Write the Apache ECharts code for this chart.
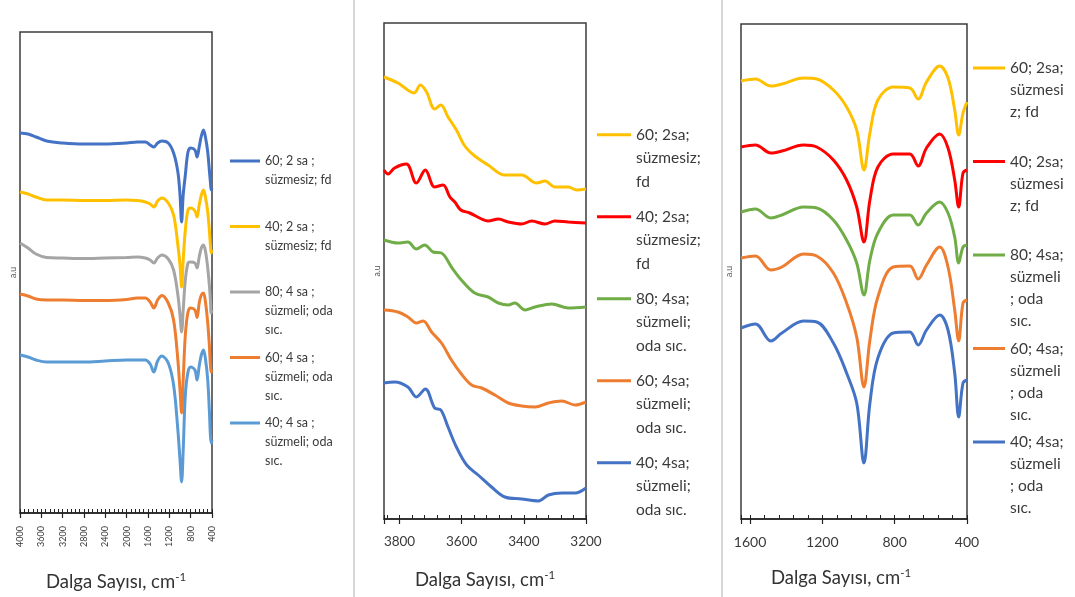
<!DOCTYPE html>
<html><head><meta charset="utf-8">
<script src="https://cdn.jsdelivr.net/npm/echarts@6/dist/echarts.min.js"></script>
<style>html,body{margin:0;padding:0;background:#fff}#c{width:1075px;height:597px}</style>
</head><body><div id="c"></div>
<script>
// ---------- Panel 1 (4000-400 cm-1) ----------
const W1 = [4000, 3850, 3700, 3500, 3200, 2800, 2400, 2000, 1800, 1650, 1560, 1490, 1420, 1340, 1220, 1120, 1040, 1000, 970, 940, 900, 850, 800, 720, 680, 640, 600, 560, 520, 480, 450, 430, 415, 400];
const p1_60_2 = [38.0, 37.9, 37.6, 37.2, 37.0, 36.9, 36.9, 37.0, 37.1, 37.1, 36.8, 36.6, 37.0, 37.2, 37.0, 36.0, 34.1, 31.8, 29.1, 31.8, 33.8, 36.1, 36.5, 36.3, 35.6, 36.6, 37.7, 38.3, 37.5, 36.1, 34.3, 33.1, 32.3, 32.5];
const p1_40_2 = [32.1, 31.9, 31.6, 31.3, 31.3, 31.25, 31.25, 31.3, 31.25, 31.1, 30.9, 30.6, 31.2, 31.5, 31.0, 29.8, 26.8, 24.8, 22.6, 25.3, 28.3, 30.3, 30.5, 30.2, 29.6, 30.8, 31.8, 32.3, 31.5, 30.1, 28.3, 26.8, 26.0, 26.3];
const p1_80_4 = [27.0, 26.5, 25.9, 25.55, 25.5, 25.45, 25.5, 25.55, 25.6, 25.5, 25.3, 25.0, 25.5, 25.8, 25.4, 24.3, 21.8, 19.8, 18.1, 20.3, 23.3, 25.0, 25.1, 25.0, 24.5, 25.6, 26.5, 26.8, 26.1, 24.5, 22.8, 21.3, 20.0, 20.3];
const p1_60_4 = [21.9, 21.7, 21.4, 21.3, 21.3, 21.25, 21.25, 21.35, 21.5, 21.5, 21.1, 20.5, 21.3, 21.75, 21.0, 19.3, 15.3, 12.3, 10.0, 13.3, 17.8, 20.1, 20.5, 20.3, 19.55, 21.0, 21.8, 22.0, 21.0, 19.0, 16.8, 14.8, 14.1, 14.3];
const p1_40_4 = [15.8, 15.6, 15.3, 15.1, 15.1, 15.1, 15.2, 15.3, 15.3, 15.3, 14.9, 14.1, 15.2, 15.7, 15.0, 12.8, 8.3, 5.3, 3.1, 6.3, 11.8, 14.1, 14.6, 14.3, 13.3, 14.7, 15.8, 16.3, 15.3, 13.3, 10.3, 7.8, 7.0, 7.3];
const names1 = ['60; 2 sa ;\nsüzmesiz; fd', '40; 2 sa ;\nsüzmesiz; fd', '80; 4 sa ;\nsüzmeli; oda\nsıc.', '60; 4 sa ;\nsüzmeli; oda\nsıc.', '40; 4 sa ;\nsüzmeli; oda\nsıc.'];
const colors1 = ['#4472C4', '#FFC000', '#A5A5A5', '#ED7D31', '#5B9BD5'];
const ticks1 = [400, 800, 1200, 1600, 2000, 2400, 2800, 3200, 3600, 4000];

// ---------- Panel 2 (3850-3200 cm-1) ----------
const p2_60_2 = [[3850, 44.2], [3805, 43.6], [3753, 42.6], [3733, 43.4], [3713, 42.7], [3687, 41.0], [3667, 41.4], [3644, 40.2], [3617, 38.9], [3590, 37.3], [3558, 36.3], [3515, 35.4], [3461, 34.4], [3407, 34.4], [3359, 33.6], [3332, 33.8], [3300, 33.2], [3257, 33.2], [3230, 32.9], [3200, 33.0]];
const p2_40_2 = [[3850, 34.9], [3837, 34.5], [3816, 35.1], [3778, 35.5], [3746, 33.6], [3717, 34.9], [3687, 33.2], [3660, 33.4], [3638, 32.2], [3622, 31.7], [3603, 30.9], [3574, 30.6], [3536, 30.0], [3515, 29.8], [3482, 30.0], [3450, 29.7], [3407, 29.5], [3375, 29.8], [3332, 29.5], [3300, 29.8], [3257, 29.7], [3200, 29.6]];
const p2_80_4 = [[3850, 27.9], [3805, 27.6], [3773, 27.7], [3746, 27.0], [3719, 27.4], [3692, 26.7], [3665, 26.6], [3633, 25.2], [3601, 23.9], [3558, 22.6], [3515, 22.2], [3482, 21.6], [3450, 21.4], [3429, 21.6], [3396, 20.9], [3364, 21.2], [3310, 21.5], [3257, 21.1], [3200, 21.2]];
const p2_60_4 = [[3850, 20.9], [3805, 20.7], [3773, 20.2], [3746, 19.6], [3724, 19.8], [3697, 18.7], [3665, 17.6], [3633, 15.9], [3601, 14.5], [3568, 13.4], [3536, 13.1], [3493, 12.4], [3450, 11.6], [3407, 11.3], [3364, 11.2], [3321, 11.6], [3278, 11.8], [3235, 11.4], [3200, 11.7]];
const p2_40_4 = [[3850, 13.6], [3816, 13.7], [3773, 13.2], [3746, 12.2], [3717, 13.0], [3687, 11.1], [3667, 10.9], [3644, 9.2], [3617, 7.2], [3584, 5.4], [3547, 4.4], [3504, 3.2], [3461, 2.2], [3407, 2.0], [3353, 1.8], [3321, 2.4], [3278, 2.6], [3235, 2.6], [3200, 3.1]];
const names2 = ['60; 2sa;\nsüzmesiz;\nfd', '40; 2sa;\nsüzmesiz;\nfd', '80; 4sa;\nsüzmeli;\noda sıc.', '60; 4sa;\nsüzmeli;\noda sıc.', '40; 4sa;\nsüzmeli;\noda sıc.'];
const colors2 = ['#FFC000', '#FF0000', '#70AD47', '#ED7D31', '#4472C4'];
const ticks2 = [3200, 3400, 3600, 3800];

// ---------- Panel 3 (1650-400 cm-1) ----------
const W3 = [1650, 1570, 1485, 1424, 1304, 1231, 1139, 1066, 1010, 970, 937, 893, 808, 716, 670, 624, 551, 505, 468, 446, 422, 400];
const p3_60_2 = [43.8, 44.0, 43.3, 43.5, 44.1, 44.0, 42.9, 41.2, 38.9, 34.9, 38.6, 41.9, 43.2, 43.1, 42.0, 43.7, 45.3, 44.1, 40.9, 38.4, 40.6, 41.7];
const p3_40_2 = [37.2, 37.4, 36.6, 36.8, 37.4, 37.2, 35.9, 33.9, 31.2, 27.7, 31.9, 35.2, 36.5, 36.5, 35.3, 37.1, 38.5, 37.1, 33.9, 31.2, 34.6, 34.9];
const p3_80_4 = [30.7, 31.0, 30.1, 30.4, 31.2, 31.1, 29.9, 27.9, 25.6, 22.4, 25.9, 28.6, 30.4, 30.4, 29.4, 30.6, 31.7, 30.6, 28.2, 25.6, 27.2, 27.4];
const p3_60_4 = [26.1, 26.3, 24.9, 25.2, 26.5, 26.3, 24.6, 21.6, 18.2, 13.2, 17.9, 22.2, 25.2, 25.3, 24.0, 25.4, 27.2, 25.2, 20.9, 17.8, 21.6, 21.9];
const p3_40_4 = [19.1, 19.5, 17.8, 18.6, 19.8, 19.7, 17.6, 14.6, 11.6, 5.6, 11.6, 16.1, 18.6, 18.7, 17.4, 18.9, 20.4, 18.9, 14.6, 10.2, 13.6, 13.9];
const names3 = ['60; 2sa;\nsüzmesi\nz; fd', '40; 2sa;\nsüzmesi\nz; fd', '80; 4sa;\nsüzmeli\n; oda\nsıc.', '60; 4sa;\nsüzmeli\n; oda\nsıc.', '40; 4sa;\nsüzmeli\n; oda\nsıc.'];
const colors3 = ['#FFC000', '#FF0000', '#70AD47', '#ED7D31', '#4472C4'];
const ticks3 = [400, 800, 1200, 1600];

const xTitle = 'Dalga Sayısı, cm';
const yTitle = 'a.u';

// ---------- build ----------
const FONT = 'Lato';
const zip = (xs, ys) => xs.map((x, i) => [x, ys[i]]);
const panel1 = [p1_60_2, p1_40_2, p1_80_4, p1_60_4, p1_40_4].map(v => zip(W1, v));
const panel2 = [p2_60_2, p2_40_2, p2_80_4, p2_60_4, p2_40_4];
const panel3 = [p3_60_2, p3_40_2, p3_80_4, p3_60_4, p3_40_4].map(v => zip(W3, v));

const grids = [
  {left: 20, top: 32, width: 192, height: 481},
  {left: 384, top: 23, width: 202, height: 496},
  {left: 741, top: 24, width: 226, height: 495}
].map(g => Object.assign({show: true, borderColor: '#3c3c3c', borderWidth: 1.5, backgroundColor: 'transparent', outerBoundsMode: 'none', containLabel: false}, g));

function mainX(gi, min, max, ticks, lblOpts, nameGap, namePad) {
  return {
    type: 'value', gridIndex: gi, min: min, max: max, interval: (ticks[1] - ticks[0]), inverse: true, position: 'bottom',
    axisLine: {show: true, onZero: false, lineStyle: {color: '#222', width: 1.5}},
    axisTick: {show: true, inside: false, length: 5, lineStyle: {color: '#222', width: 1.2}},
    splitLine: {show: false},
    axisLabel: Object.assign({color: '#3a3a3a', fontFamily: FONT, formatter: v => ticks.indexOf(v) >= 0 ? String(v) : '', showMinLabel: true, showMaxLabel: true, hideOverlap: false}, lblOpts),
    name: '{a|' + xTitle + '}{s|-1}', nameLocation: 'middle', nameGap: nameGap, nameMoveOverlap: false,
    nameTextStyle: {padding: namePad, rich: {
      a: {fontFamily: FONT, fontSize: 18.5, color: '#333'},
      s: {fontFamily: FONT, fontSize: 11.5, color: '#333', padding: [0, 0, 10, 0]}
    }}
  };
}
function minorX(gi, min, max, step) {
  return {
    type: 'value', gridIndex: gi, min: min, max: max, interval: step, inverse: true, position: 'bottom',
    axisLine: {show: false}, axisLabel: {show: false}, splitLine: {show: false},
    axisTick: {show: true, inside: true, length: 4, lineStyle: {color: '#222', width: 1}}
  };
}
function yAx(gi, max, gap) {
  return {
    type: 'value', gridIndex: gi, min: 0, max: max,
    axisLine: {show: false}, axisTick: {show: false}, axisLabel: {show: false}, splitLine: {show: false},
    name: yTitle, nameLocation: 'middle', nameRotate: 90, nameGap: gap, nameMoveOverlap: false,
    nameTextStyle: {fontFamily: FONT, fontSize: 8.5, color: '#555'}
  };
}

const xAxes = [
  mainX(0, 400, 4000, ticks1, {fontSize: 9, rotate: 90, margin: 13}, 58, [0, 0, 0, 0]),
  minorX(0, 400, 4000, 80),
  mainX(1, 3200, 3850, ticks2, {fontSize: 13.5, margin: 16}, 50, [0, 0, 0, 0]),
  minorX(1, 3200, 3850, 40),
  mainX(2, 400, 1650, ticks3, {fontSize: 14, margin: 16}, 48, [0, 26, 0, 0]),
  minorX(2, 400, 1650, 80)
];
const yAxes = [yAx(0, 48.1, 2), yAx(1, 49.6, 2), yAx(2, 49.5, 7)];

const series = [];
function addSeries(list, names, colors, xi, yi) {
  list.forEach((d, i) => series.push({
    type: 'line', name: names[i], data: d, xAxisIndex: xi, yAxisIndex: yi,
    showSymbol: false, symbol: 'none', smooth: 0.35, clip: true,
    lineStyle: {color: colors[i], width: 3}, itemStyle: {color: colors[i]},
    emphasis: {disabled: true}, animation: false
  }));
}
addSeries(panel1, names1, colors1, 0, 0);
addSeries(panel2, names2, colors2, 2, 1);
addSeries(panel3, names3, colors3, 4, 2);

function legendIcon(w, lh, lines) {
  const h = lh * lines, c = lh / 2;
  return 'path://M0,0L0.01,0M0,' + (c - 1.5) + 'H' + w + 'V' + (c + 1.5) + 'H0ZM0,' + h + 'L0.01,' + h;
}
function legend(names, left, top, w, lh, lines, gap, fs) {
  return {
    data: names, orient: 'vertical', left: left, top: top, padding: 0, itemGap: gap,
    itemWidth: w, itemHeight: lh * lines, icon: legendIcon(w, lh, lines),
    itemStyle: {borderWidth: 0}, selectedMode: false,
    formatter: n => { let k = n.split('\n').length; let s = n; while (k < lines) { s += '\n\u00a0'; k++; } return s; },
    textStyle: {fontFamily: FONT, fontSize: fs, lineHeight: lh, color: '#3a3a3a'}
  };
}

const option = {
  animation: false,
  textStyle: {fontFamily: FONT},
  grid: grids,
  xAxis: xAxes,
  yAxis: yAxes,
  legend: [
    legend(names1, 230, 151.5, 30, 19, 3, 8.5, 12.5),
    legend(names2, 597, 123, 34, 23.5, 3, 11.5, 15.5),
    legend(names3, 973, 57, 32, 22, 4, 5.5, 15.5)
  ],
  graphic: [
    {type: 'line', shape: {x1: 354, y1: 0, x2: 354, y2: 597}, style: {stroke: '#c8c8c8', lineWidth: 1.5}},
    {type: 'line', shape: {x1: 722, y1: 0, x2: 722, y2: 597}, style: {stroke: '#c8c8c8', lineWidth: 1.5}}
  ],
  series: series
};
const chart = echarts.init(document.getElementById('c'), null, {renderer: 'canvas'});
chart.setOption(option);
</script></body></html>
